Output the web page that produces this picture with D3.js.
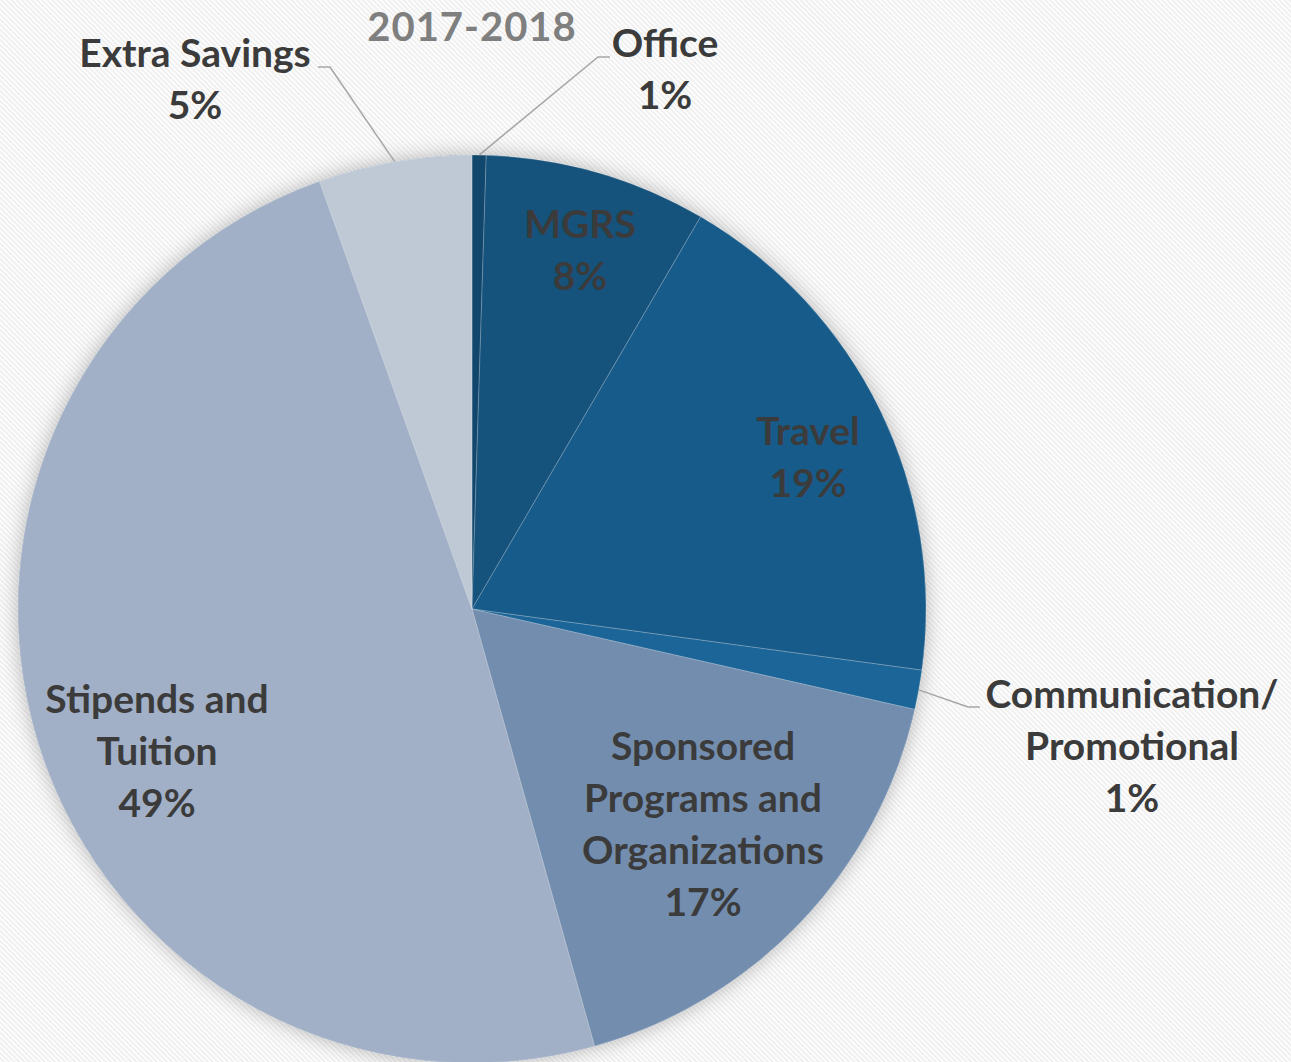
<!DOCTYPE html>
<html>
<head>
<meta charset="utf-8">
<script src="https://cdn.jsdelivr.net/npm/d3@7"></script>
<style>
  html, body { margin: 0; padding: 0; background: #ffffff; }
  svg { display: block; }
  text { font-family: Lato, "Open Sans", sans-serif; font-weight: 700; }
</style>
</head>
<body>
<script>
// ---- data ----
const title = "2017-2018";
const categories = ["Office", "MGRS", "Travel", "Communication/ Promotional",
  "Sponsored Programs and Organizations", "Stipends and Tuition", "Extra Savings"];
const values = [0.5, 7.9, 18.75, 1.4, 17.1, 48.9, 5.45];
const labelLines = [
  ["Office"], ["MGRS"], ["Travel"], ["Communication/", "Promotional"],
  ["Sponsored", "Programs and", "Organizations"], ["Stipends and", "Tuition"], ["Extra Savings"]
];
const colors = ["#11466d", "#15527c", "#175b8a", "#1b6598", "#738daf", "#a1b0c6", "#bfc9d6"];

// ---- layout ----
const W = 1291, H = 1062;
const cx = 472, cy = 609, R = 454;
const lineH = 52;
// label anchor (center x, first-line baseline), optional leader elbow [x,y] and end x
const labelLayout = [
  { x: 665, y: 57,  elbow: [598, 57],  end: 610 },
  { x: 580, y: 238 },
  { x: 808, y: 445 },
  { x: 1132, y: 708, elbow: [968, 707], end: 980 },
  { x: 703, y: 760 },
  { x: 157, y: 713 },
  { x: 195, y: 67,  elbow: [330, 67],  end: 318 }
];

const svg = d3.select("body").append("svg").attr("width", W).attr("height", H);
const defs = svg.append("defs");
const pat = defs.append("pattern").attr("id", "stripes")
  .attr("patternUnits", "userSpaceOnUse").attr("width", 3.6).attr("height", 3.6)
  .attr("patternTransform", "rotate(-45)");
pat.append("rect").attr("width", 3.6).attr("height", 3.6).attr("fill", "#fdfdfd");
pat.append("rect").attr("width", 1.6).attr("height", 3.6).attr("fill", "#eeeeee");

const f = defs.append("filter").attr("id", "shadow")
  .attr("x", "-20%").attr("y", "-20%").attr("width", "140%").attr("height", "140%");
f.append("feDropShadow").attr("dx", 0).attr("dy", 0).attr("stdDeviation", 10)
  .attr("flood-color", "#000").attr("flood-opacity", 0.28);

svg.append("rect").attr("width", W).attr("height", H).attr("fill", "url(#stripes)");

const pie = d3.pie().sort(null).value(d => d)(values);
const arc = d3.arc().innerRadius(0).outerRadius(R);

const g = svg.append("g").attr("transform", `translate(${cx},${cy})`);
g.append("circle").attr("r", R).attr("fill", "#8899aa").attr("filter", "url(#shadow)");
g.selectAll("path.slice").data(pie).join("path")
  .attr("class", "slice")
  .attr("d", arc)
  .attr("fill", (d, i) => colors[i])
  .attr("stroke", "rgba(255,255,255,0.22)")
  .attr("stroke-width", 1);

// leader lines
const edgeArc = d3.arc().innerRadius(R).outerRadius(R);
pie.forEach((d, i) => {
  const L = labelLayout[i];
  if (!L.elbow) return;
  const [sx, sy] = edgeArc.centroid(d);
  svg.append("polyline")
    .attr("points", [[sx + cx, sy + cy], L.elbow, [L.end, L.elbow[1]]].map(p => p.join(",")).join(" "))
    .attr("fill", "none").attr("stroke", "#a6a6a6").attr("stroke-width", 1.5);
});

// labels
pie.forEach((d, i) => {
  const L = labelLayout[i];
  const lines = labelLines[i].concat([Math.round(values[i]) + "%"]);
  const t = svg.append("text").attr("text-anchor", "middle")
    .attr("fill", "#3b3b3b").attr("font-size", 39);
  lines.forEach((s, k) => {
    t.append("tspan").attr("x", L.x).attr("y", L.y + k * lineH).text(s);
  });
});

svg.append("text").attr("x", 472).attr("y", 41).attr("text-anchor", "middle")
  .attr("fill", "#7f7f7f").attr("font-size", 40).attr("letter-spacing", 1).text(title);
</script>
</body>
</html>
